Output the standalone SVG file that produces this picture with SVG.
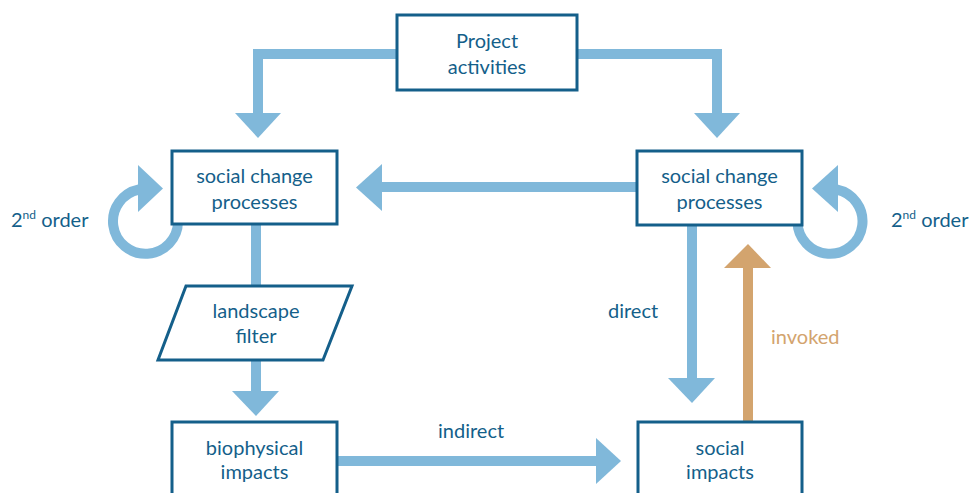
<svg xmlns="http://www.w3.org/2000/svg" width="969" height="493" viewBox="0 0 969 493">
<style>
.bar{fill:none;stroke:#80b8da;stroke-width:10;stroke-linejoin:miter}
.head{fill:#80b8da}
.tbar{fill:none;stroke:#d3a46e;stroke-width:10}
.thead{fill:#d3a46e}
.box{fill:#fff;stroke:#145f8a;stroke-width:3}
.t{font-family:Lato,"Open Sans","Liberation Sans",sans-serif;font-size:20px;fill:#145f8a;text-anchor:middle}
.lbl{font-family:Lato,"Open Sans","Liberation Sans",sans-serif;font-size:20px;fill:#145f8a}
.tan{fill:#d3a46e}
</style>
<rect width="969" height="493" fill="#fff"/>
<g id="connectors">
<path class="bar" d="M397 54H258V114"/>
<polygon class="head" points="235,113 281,113 258,138"/>
<path class="bar" d="M577 54H717V114"/>
<polygon class="head" points="694,113 740,113 717,138"/>
<path class="bar" d="M637 187H381"/>
<polygon class="head" points="382,164 382,211 356,187.5"/>
<path class="bar" d="M256 224V287"/>
<path class="bar" d="M256 360V392"/>
<polygon class="head" points="232,391 279,391 256,416"/>
<path class="bar" d="M337 461H597"/>
<polygon class="head" points="596,438 596,484 621,461"/>
<path class="bar" d="M692 225V379"/>
<polygon class="head" points="668,378 715,378 692,403"/>
<path class="tbar" d="M748 423V267"/>
<polygon class="thead" points="724,268 771,268 748,244"/>
<path class="bar" d="M178 221.5A32.5 32.5 0 1 1 139 189.5"/>
<polygon class="head" points="138,165 138,212 163,188.5"/>
<path class="bar" d="M797.5 221.5A32.5 32.5 0 1 0 836.5 189.5"/>
<polygon class="head" points="838,165 838,212 812,188.5"/>
</g>
<g id="project">
<rect class="box" x="397" y="15" width="180" height="75"/>
<text class="t" x="487" y="48">Project</text>
<text class="t" x="487" y="74">activities</text>
</g>
<g id="scp-left">
<rect class="box" x="172" y="151" width="165" height="73"/>
<text class="t" x="254.5" y="183">social change</text>
<text class="t" x="254.5" y="209">processes</text>
</g>
<g id="scp-right">
<rect class="box" x="637" y="151" width="165" height="74"/>
<text class="t" x="719.5" y="183">social change</text>
<text class="t" x="719.5" y="209">processes</text>
</g>
<g id="landscape">
<polygon class="box" points="186,286 352,286 323,360 158,360"/>
<text class="t" x="256" y="318">landscape</text>
<text class="t" x="256" y="343">filter</text>
</g>
<g id="biophysical">
<rect class="box" x="172" y="422" width="165" height="80"/>
<text class="t" x="254.5" y="455">biophysical</text>
<text class="t" x="254.5" y="479">impacts</text>
</g>
<g id="social-impacts">
<rect class="box" x="638" y="422" width="164" height="80"/>
<text class="t" x="720" y="455">social</text>
<text class="t" x="720" y="479">impacts</text>
</g>
<g id="labels">
<text class="lbl" x="11" y="227">2<tspan font-size="12" dy="-8">nd</tspan><tspan dy="8"> order</tspan></text>
<text class="lbl" x="891" y="227">2<tspan font-size="12" dy="-8">nd</tspan><tspan dy="8"> order</tspan></text>
<text class="lbl" x="608" y="318">direct</text>
<text class="lbl tan" x="771" y="344">invoked</text>
<text class="lbl" x="438" y="438">indirect</text>
</g>
</svg>
